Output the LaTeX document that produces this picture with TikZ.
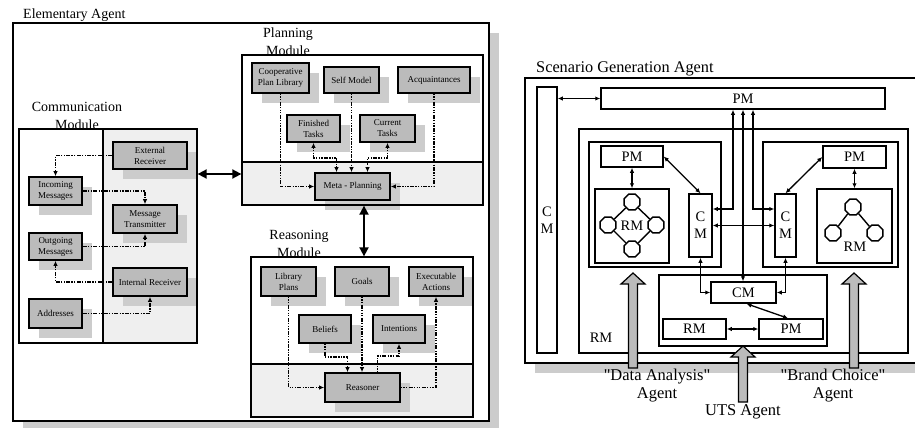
\documentclass[tikz,border=0pt]{standalone}
\usepackage{fontspec}
\setmainfont{Liberation Serif}
\usetikzlibrary{positioning}
\usetikzlibrary{shapes}
\usetikzlibrary{shadows}
\usetikzlibrary{arrows.meta}
\definecolor{unitgray}{HTML}{BBBBBB}
\definecolor{shadegray}{HTML}{CCCCCC}
\definecolor{panelgray}{HTML}{EFEFEF}

\begin{document}
\begin{tikzpicture}[x=1pt, y=-1pt, font=\fontsize{9}{11}\selectfont,
    frame/.style={draw, line width=1.6pt, fill=white, inner sep=0pt,
        drop shadow={shadow xshift=10pt, shadow yshift=-10pt, fill=shadegray, opacity=1}},
    unit/.style={draw, line width=1.7pt, fill=unitgray, align=center, inner sep=0pt,
        drop shadow={shadow xshift=10pt, shadow yshift=-10pt, fill=shadegray, opacity=1}},
    module/.style={draw, line width=1.3pt, inner sep=0pt},
    divider/.style={line width=1.3pt},
    modlabel/.style={anchor=south, inner sep=0pt, align=center, font=\fontsize{14}{18}\selectfont},
    commflow/.style={line width=1.4pt, dash pattern=on 4pt off 1.3pt on 1.3pt off 1.3pt on 1.3pt off 1.3pt,
        >={Latex[length=5pt,width=4.5pt]}, ->},
    planflow/.style={line width=1.4pt, dash pattern=on 1.3pt off 1.3pt on 1.3pt off 1.3pt on 1.3pt off 1.3pt on 4pt off 1.3pt,
        >={Latex[length=5pt,width=4.5pt]}, ->},
    bigarrow/.style={line width=1.8pt, {Triangle[length=9pt,width=9pt]}-{Triangle[length=9pt,width=9pt]}},
    box/.style={draw, line width=1.5pt, inner sep=0pt, align=center, font=\fontsize{14.5}{17}\selectfont},
    link/.style={line width=1.3pt, {Latex[length=5pt,width=4.5pt]}-{Latex[length=5pt,width=4.5pt]}},
    octo/.style={draw, line width=1.4pt, fill=white, regular polygon, regular polygon sides=8,
        minimum size=17pt, inner sep=0pt},
    tag/.style={inner sep=0pt, align=center, font=\fontsize{16.5}{18}\selectfont}]
    % Fix the page
    \useasboundingbox (0,0) rectangle (915,428);
    \clip (0,0) rectangle (915,428);

    % Draw the elementary agent
    \node[frame, minimum width=476pt, minimum height=398pt] (ea) at (251,222) {};
    \node[anchor=base west, inner sep=0pt, font=\fontsize{14}{18}\selectfont] (ealbl) at (23,19) {Elementary Agent};

    % Communication module
    \fill[panelgray] (103,129) rectangle (197,343);
    \node[unit, minimum width=74pt, minimum height=27pt] (ext) at (150,155.5) {External\\Receiver};
    \node[unit, minimum width=53pt, minimum height=28pt] (inc) at (55.5,191) {Incoming\\Messages};
    \node[unit, minimum width=64pt, minimum height=28pt] (trans) at (145,219) {Message\\Transmitter};
    \node[unit, minimum width=53pt, minimum height=27pt] (outg) at (55.5,246.5) {Outgoing\\Messages};
    \node[unit, minimum width=74pt, minimum height=28pt] (intr) at (150,282) {Internal Receiver};
    \node[unit, minimum width=53pt, minimum height=29pt] (addr) at (55.5,313.5) {Addresses};
    \node[module, minimum width=178pt, minimum height=214pt] (comm) at (108,236) {};
    \draw[divider] (103,129) -- (103,343);
    \node[modlabel] (commlbl) at (77,130) {Communication\\Module};
    \draw[commflow] (ext.west) -| (inc.north);
    \draw[commflow] (inc.east) -| (trans.north);
    \draw[commflow] (outg.east) -| (trans.south);
    \draw[commflow] (intr.west) -| (outg.south);
    \draw[commflow] (addr.east) -| (intr.south);

    % Planning module
    \fill[panelgray] (242,162) rectangle (483,205);
    \node[unit, minimum width=57pt, minimum height=30pt] (coop) at (280.5,78) {Cooperative\\Plan Library};
    \node[unit, minimum width=55pt, minimum height=26pt] (self) at (351.5,80) {Self Model};
    \node[unit, minimum width=72pt, minimum height=26pt] (acq) at (434,80) {Acquaintances};
    \node[unit, minimum width=53pt, minimum height=27pt] (fin) at (313.5,128.5) {Finished\\Tasks};
    \node[unit, minimum width=55pt, minimum height=27pt] (cur) at (387.5,128.5) {Current\\Tasks};
    \node[unit, minimum width=75pt, minimum height=27pt] (meta) at (352.5,186.5) {Meta - Planning};
    \node[module, minimum width=241pt, minimum height=150pt] (plan) at (362.5,130) {};
    \draw[divider] (242,162) -- (483,162);
    \node[modlabel] (planlbl) at (288,56) {Planning\\Module};
    \draw[planflow] (coop.south) |- (meta.west);
    \draw[planflow] (self.south) -- (self.south |- meta.north);
    \draw[planflow] (acq.south) |- (meta.east);
    \draw[planflow, <->] (fin.south) -- ++(0,15) -| ([xshift=-16pt]meta.north);
    \draw[planflow, <->] (cur.south) -- ++(0,15) -| ([xshift=15pt]meta.north);

    % Reasoning module
    \fill[panelgray] (251,364) rectangle (473,417);
    \node[unit, minimum width=55pt, minimum height=29pt] (libp) at (288.5,281.5) {Library\\Plans};
    \node[unit, minimum width=54pt, minimum height=29pt] (goals) at (362,281.5) {Goals};
    \node[unit, minimum width=54pt, minimum height=29pt] (exec) at (436,281.5) {Executable\\Actions};
    \node[unit, minimum width=52pt, minimum height=28pt] (bel) at (325,329) {Beliefs};
    \node[unit, minimum width=52pt, minimum height=28pt] (intent) at (399,329) {Intentions};
    \node[unit, minimum width=75pt, minimum height=29pt] (reasoner) at (362.5,387.5) {Reasoner};
    \node[module, minimum width=222pt, minimum height=160pt] (reas) at (362,337) {};
    \draw[divider] (251,364) -- (473,364);
    \node[modlabel] (reaslbl) at (299,258) {Reasoning\\Module};
    \draw[planflow] (libp.south) |- (reasoner.west);
    \draw[planflow] (goals.south) -- (goals.south |- reasoner.north);
    \draw[planflow] (bel.south) -- ++(0,13) -| ([xshift=-15pt]reasoner.north);
    \draw[planflow] ([xshift=15pt]reasoner.north) -- ++(0,-16) -| (intent.south);
    \draw[planflow] (reasoner.east) -| (exec.south);

    % Links between the modules
    \draw[bigarrow] (comm.east |- 0,174) -- (plan.west |- 0,174);
    \draw[bigarrow] (plan.south -| 364,0) -- (reas.north -| 364,0);

    % Draw the scenario generation agent
    \node[frame, minimum width=395pt, minimum height=285pt] (sga) at (722.5,220.5) {};
    \node[anchor=base west, inner sep=0pt, font=\fontsize{16.3}{18}\selectfont] (sgalbl) at (536,72.5) {Scenario Generation Agent};
    \node[box, minimum width=20pt, minimum height=266pt] (cmbar) at (547,220) {C\\M};
    \node[box, minimum width=284pt, minimum height=21pt] (toppm) at (743,98.5) {PM};
    \node[box, minimum width=329pt, minimum height=224pt] (rmbox) at (743.5,241) {};
    \node[box, draw=none, anchor=base west] (rmlbl) at (589,342) {RM};
    \node[box, minimum width=132pt, minimum height=125pt] (lbox) at (655,204.5) {};
    \node[box, minimum width=135pt, minimum height=125pt] (rbox) at (830.5,204.5) {};
    \node[box, minimum width=168pt, minimum height=71pt] (mbox) at (743,310.5) {};

    % Left part
    \node[box, minimum width=62pt, minimum height=21pt] (lpm) at (632,156.5) {PM};
    \node[box, minimum width=74pt, minimum height=74pt] (lrm) at (632,226) {RM};
    \node[box, minimum width=23pt, minimum height=63pt] (lcm) at (700.5,225.5) {C\\M};
    \node[octo] (lo1) at (632,202) {};
    \node[octo] (lo2) at (608,225) {};
    \node[octo] (lo3) at (656,225) {};
    \node[octo] (lo4) at (632,249) {};
    \draw[line width=1.4pt] (lo1) -- (lo2) -- (lo4) -- (lo3) -- (lo1);

    % Right part
    \node[box, minimum width=63pt, minimum height=22pt] (rpm) at (854.5,157) {PM};
    \node[box, minimum width=75pt, minimum height=74pt] (rrm) at (854.5,226) {};
    \node[box, draw=none] (rrmlbl) at (855,247) {RM};
    \node[box, minimum width=21pt, minimum height=63pt] (rcm) at (785.5,225.5) {C\\M};
    \node[octo] (ro1) at (853,207) {};
    \node[octo] (ro2) at (833,233) {};
    \node[octo] (ro3) at (875,233) {};
    \draw[line width=1.4pt] (ro2) -- (ro1) -- (ro3);

    % Middle part
    \node[box, minimum width=65pt, minimum height=21pt] (mcm) at (743.5,292.5) {CM};
    \node[box, minimum width=63pt, minimum height=20pt] (mrm) at (694.5,329) {RM};
    \node[box, minimum width=64pt, minimum height=20pt] (mpm) at (791,329) {PM};

    % Links
    \draw[link] (cmbar.east |- toppm.west) -- (toppm.west);
    \draw[link] (lpm.south) -- (lrm.north);
    \draw[link] (lpm.east) -- (lcm.north);
    \draw[link] (rpm.south) -- (rrm.north);
    \draw[link] (rpm.west) -- (rcm.north);
    \draw[link] (lcm.east |- 0,209) -| ([xshift=-10pt]toppm.south);
    \draw[link] (rcm.west |- 0,209) -| ([xshift=10pt]toppm.south);
    \draw[link] (toppm.south) -- (toppm.south |- mcm.north);
    \draw[link] (lcm.east) -- (rcm.west);
    \draw[link] (lcm.south) |- (mcm.west);
    \draw[link] (rcm.south) |- (mcm.east);
    \draw[link] (mrm.east) -- (mpm.west);
    \draw[link] ([xshift=3pt]mcm.south) -- ([xshift=-3pt]mpm.north);

    % Incoming agents
    \foreach \x/\yb/\yt in {633/368/273, 743/402/346, 854/368/273}{
        \draw[line width=1.2pt, fill=unitgray] (\x-4.5,\yb) -- (\x-4.5,\yt+11) -- (\x-12,\yt+11) -- (\x,\yt)
            -- (\x+12,\yt+11) -- (\x+4.5,\yt+11) -- (\x+4.5,\yb) -- cycle;
    }
    \node[tag] (dalbl) at (657,386) {\textquotedbl Data Analysis\textquotedbl\\Agent};
    \node[tag] (utslbl) at (743,412) {UTS Agent};
    \node[tag] (bclbl) at (833,386) {\textquotedbl Brand Choice\textquotedbl\\Agent};
\end{tikzpicture}
\end{document}
